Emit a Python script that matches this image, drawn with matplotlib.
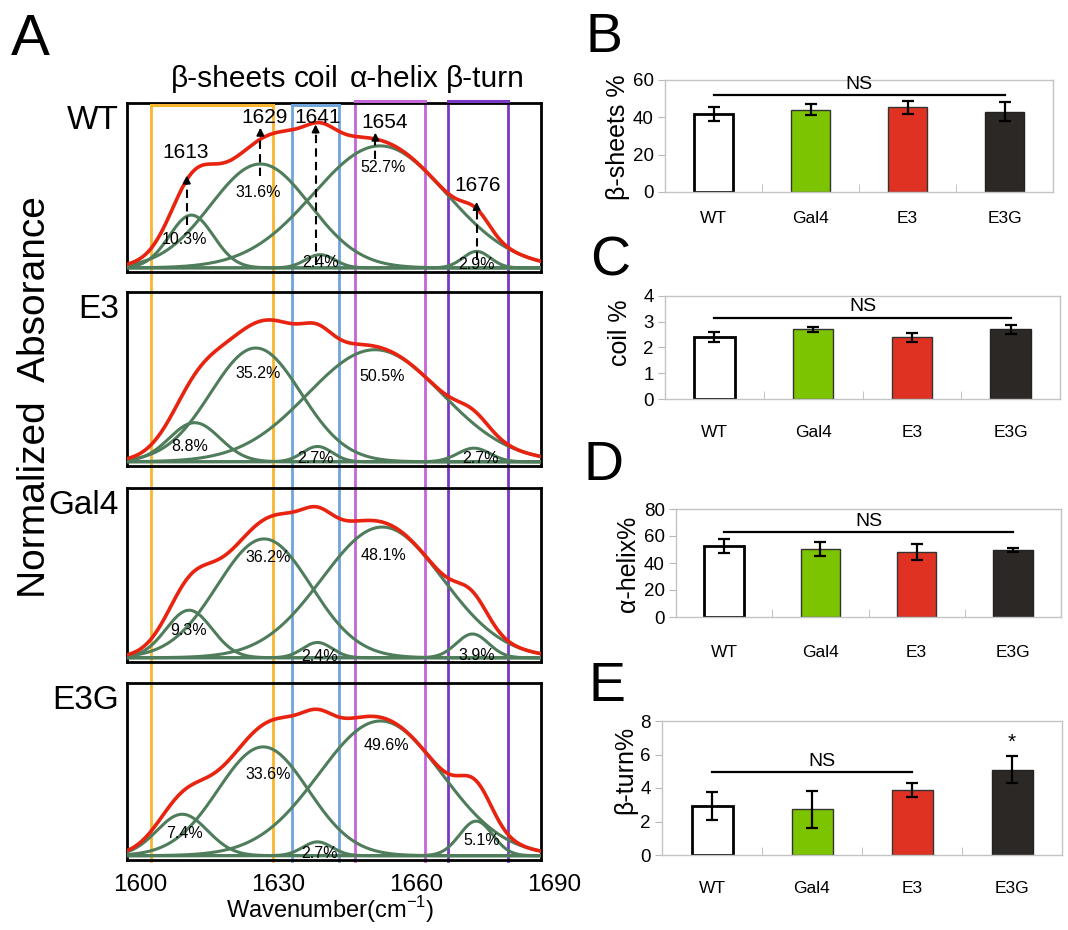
import numpy as np
import matplotlib
matplotlib.use('Agg')
import matplotlib.pyplot as plt
from matplotlib.lines import Line2D
from matplotlib import transforms

plt.rcParams['font.family'] = ['Liberation Sans', 'DejaVu Sans']

W, H = 1068, 930
fig = plt.figure(figsize=(W / 100, H / 100), dpi=100)


def fx(px):
    return px / W


def fy(py):
    return 1 - py / H


# ---------------- Panel A data (Gaussian fit components) ----------------
samples = ['WT', 'E3', 'Gal4', 'E3G']
# components: beta-sheet 1, beta-sheet 2, coil, alpha-helix, beta-turn
wt_centers = [1614.0, 1629.0, 1642.0, 1655.0, 1676.0]
wt_heights = [0.32, 0.63, 0.08, 0.74, 0.10]
wt_widths = [4.8, 10.8, 3.2, 14.5, 3.0]
wt_pct = ['10.3%', '31.6%', '2.4%', '52.7%', '2.9%']

e3_centers = [1614.7, 1628.0, 1641.4, 1653.9, 1675.4]
e3_heights = [0.23, 0.67, 0.09, 0.66, 0.08]
e3_widths = [5.5, 9.8, 3.2, 14.6, 3.5]
e3_pct = ['8.8%', '35.2%', '2.7%', '50.5%', '2.7%']

gal4_centers = [1613.5, 1629.8, 1641.4, 1655.5, 1675.1]
gal4_heights = [0.28, 0.70, 0.09, 0.77, 0.14]
gal4_widths = [5.0, 10.2, 3.2, 13.1, 3.5]
gal4_pct = ['9.3%', '36.2%', '2.4%', '48.1%', '3.9%']

e3g_centers = [1612.0, 1629.6, 1641.4, 1655.1, 1675.9]
e3g_heights = [0.24, 0.63, 0.08, 0.78, 0.20]
e3g_widths = [5.5, 9.8, 3.2, 13.4, 3.6]
e3g_pct = ['7.4%', '33.6%', '2.7%', '49.6%', '5.1%']

# percent label positions (wavenumber, height)
wt_pct_pos = [(1612.6, 0.17), (1628.5, 0.46), (1642.0, 0.03), (1655.6, 0.61), (1676.0, 0.02)]
e3_pct_pos = [(1613.7, 0.09), (1628.6, 0.52), (1641.0, 0.02), (1655.5, 0.50), (1676.9, 0.02)]
gal4_pct_pos = [(1613.4, 0.16), (1630.7, 0.59), (1641.8, 0.01), (1655.7, 0.60), (1676.0, 0.015)]
e3g_pct_pos = [(1612.5, 0.13), (1630.6, 0.47), (1641.8, 0.01), (1656.3, 0.64), (1677.0, 0.09)]

# WT peak annotations
wt_peak_labels = ['1613', '1629', '1641', '1654', '1676']
wt_peak_x = [1613, 1629, 1641, 1654, 1676]
wt_arrow_y = [(0.26, 0.56), (0.56, 0.85), (0.02, 0.87), (0.66, 0.82), (0.05, 0.40)]
wt_label_pos = [(1612.7, 0.70), (1630.0, 0.91), (1641.4, 0.91), (1656.0, 0.88), (1676.3, 0.50)]

# region boundaries (cm-1)
region_names = ['β-sheets', 'coil', 'α-helix', 'β-turn']
region_bounds = [(1605.3, 1631.7), (1635.9, 1646.1), (1649.5, 1664.8), (1669.8, 1682.8)]
region_label_x = [1622.0, 1641.1, 1658.0, 1677.8]
region_colors = ['#f7b530', '#72a3da', '#c465d8', '#7b38c6']

x_ticks = [1600, 1630, 1660, 1690]

spec_data = {
    'WT': (wt_centers, wt_heights, wt_widths, wt_pct, wt_pct_pos),
    'E3': (e3_centers, e3_heights, e3_widths, e3_pct, e3_pct_pos),
    'Gal4': (gal4_centers, gal4_heights, gal4_widths, gal4_pct, gal4_pct_pos),
    'E3G': (e3g_centers, e3g_heights, e3g_widths, e3g_pct, e3g_pct_pos),
}

# axes boxes in pixels: (top, bottom)
spec_boxes = {'WT': (103, 272), 'E3': (292, 466), 'Gal4': (488, 662), 'E3G': (683, 860)}
SX0, SX1 = 127, 541

green = '#4f7d5c'
red = '#e8230f'

wn = np.linspace(1600, 1690, 600)
spec_axes = {}
for s in samples:
    top, bot = spec_boxes[s]
    ax = fig.add_axes([fx(SX0), fy(bot), (SX1 - SX0) / W, (bot - top) / H])
    ax.set_facecolor('none')
    ax.set_xlim(1600, 1690)
    ax.set_ylim(-0.025, 1.0)
    ax.set_xticks([])
    ax.set_yticks([])
    for sp in ax.spines.values():
        sp.set_linewidth(2.0)
        sp.set_color('black')
    centers, heights, widths, pcts, ppos = spec_data[s]
    total = np.zeros_like(wn)
    for c, h, w in zip(centers, heights, widths):
        comp = h * np.exp(-0.5 * ((wn - c) / w) ** 2)
        total += comp
        ax.plot(wn, comp, color=green, lw=2.2, zorder=3)
    ax.plot(wn, total, color=red, lw=2.6, zorder=4)
    for txt, (px, py) in zip(pcts, ppos):
        ax.text(px, py, txt, ha='center', va='center', fontsize=11.5, zorder=5)
    ax.text(-0.02, 0.99, s, transform=ax.transAxes, ha='right', va='top', fontsize=24)
    spec_axes[s] = ax

# WT arrows & peak labels
axw = spec_axes['WT']
for lab, x, (y0, y1), (lx, ly) in zip(wt_peak_labels, wt_peak_x, wt_arrow_y, wt_label_pos):
    axw.plot([x, x], [y0, y1 - 0.03], ls=(0, (4, 2.5)), color='black', lw=1.5, zorder=6)
    axw.annotate('', xy=(x, y1), xytext=(x, y1 - 0.05),
                 arrowprops=dict(arrowstyle='-|>', color='black', lw=1.3,
                                 mutation_scale=11, shrinkA=0, shrinkB=0), zorder=6)
    axw.text(lx, ly, lab, ha='center', va='center', fontsize=15, zorder=7)

# region lines spanning all spectra panels
axb = spec_axes['E3G']
blend = transforms.blended_transform_factory(axb.transData, fig.transFigure)
ytop = fy(103)
ybot = fy(861)
for (a, b), col, i in zip(region_bounds, region_colors, range(4)):
    for xv in (a, b):
        fig.add_artist(Line2D([xv, xv], [ybot, ytop], transform=blend, color=col,
                              lw=2.0, zorder=-1))
    dy = -2 / H if i < 2 else 2 / H
    fig.add_artist(Line2D([a, b], [ytop + dy, ytop + dy], transform=blend, color=col,
                          lw=2.2, zorder=5))
for name, xv in zip(region_names, region_label_x):
    fig.text(xv, fy(79), name, transform=blend, ha='center', va='center', fontsize=21.5)

# bottom tick labels (slightly shifted as in the original composite)
off = transforms.ScaledTranslation(0.13, 0, fig.dpi_scale_trans)
tb = transforms.blended_transform_factory(axb.transData, fig.transFigure) + off
for v in x_ticks:
    fig.text(v, fy(885), str(v), transform=tb, ha='center', va='center', fontsize=17.5)
fig.text(fx(330), fy(910), 'Wavenumber(cm$^{\\mathregular{-1}}$)', ha='center', va='center',
         fontsize=17)
fig.text(fx(35), fy(397), 'Normalized  Absorance', rotation=90, ha='center', va='center',
         fontsize=28)
fig.text(fx(30), fy(40), 'A', ha='center', va='center', fontsize=42)

# ---------------- Panels B-E data ----------------
groups = ['WT', 'Gal4', 'E3', 'E3G']
bar_colors = ['white', '#7cc400', '#e03222', '#2c2826']
bar_edges = ['black', '#333333', '#333333', '#222222']

sheet_mean = [41.8, 44.1, 45.3, 43.1]
sheet_err = [3.7, 3.1, 3.4, 4.9]
coil_mean = [2.42, 2.71, 2.39, 2.71]
coil_err = [0.19, 0.10, 0.16, 0.17]
helix_mean = [52.7, 50.4, 48.2, 49.7]
helix_err = [5.0, 5.5, 5.8, 1.2]
turn_mean = [2.92, 2.72, 3.87, 5.10]
turn_err = [0.85, 1.12, 0.43, 0.79]

panels = [
    # letter, ylabel, mean, err, box(l, r, t, b), ymax, yticks, ns(x0,x1,y,tx,ty), letter pos, ylabel pos, label pad
    ('B', 'β-sheets %', sheet_mean, sheet_err, (665, 1053, 80, 192), 60, [0, 20, 40, 60],
     (0, 3, 52, 1.5, 53.2), (604, 38), (618, 137), 14),
    ('C', 'coil %', coil_mean, coil_err, (665, 1060, 296, 399), 4, [0, 1, 2, 3, 4],
     (0, 3, 3.16, 1.5, 3.27), (610, 262), (620, 333), 19),
    ('D', 'α-helix%', helix_mean, helix_err, (676, 1061, 509, 617), 80, [0, 20, 40, 60, 80],
     (0, 3, 62.6, 1.5, 64.5), (604, 466), (628, 564), 20),
    ('E', 'β-turn%', turn_mean, turn_err, (662, 1062, 721, 855), 8, [0, 2, 4, 6, 8],
     (0, 2, 4.96, 1.1, 5.1), (607, 687), (625, 770), 19),
]

xpos = np.arange(len(groups))
for letter, ylab, mean, err, (l, r, t, b), ymax, yticks, ns, lpos, ylpos, pad in panels:
    ax = fig.add_axes([fx(l), fy(b), (r - l) / W, (b - t) / H])
    ax.bar(xpos, mean, width=0.41, color=bar_colors, edgecolor=bar_edges,
           linewidth=[2.0, 1.0, 1.0, 1.0], zorder=2)
    ax.errorbar(xpos, mean, yerr=err, fmt='none', ecolor='black', elinewidth=1.6,
                capsize=4, capthick=1.6, zorder=3)
    ax.set_xlim(-0.5, 3.5)
    ax.set_ylim(0, ymax)
    ax.set_yticks(yticks)
    ax.set_xticks(xpos)
    ax.set_xticklabels(groups, fontsize=12.5)
    ax.set_xticks([0.5, 1.5, 2.5], minor=True)
    ax.tick_params(axis='x', which='major', length=0, pad=pad)
    ax.tick_params(axis='x', which='minor', direction='in', length=6, color='#b8b8b8')
    ax.tick_params(axis='y', length=5, color='#b8b8b8', labelsize=13.5, pad=3)
    for sp in ax.spines.values():
        sp.set_color('#c4c4c4')
        sp.set_linewidth(1.0)
    x0, x1, yl, tx, ty = ns
    ax.plot([x0, x1], [yl, yl], color='black', lw=1.6, zorder=4)
    ax.text(tx, ty, 'NS', ha='center', va='bottom', fontsize=14)
    if letter == 'E':
        ax.text(3, mean[3] + err[3] + 0.25, '*', ha='center', va='bottom', fontsize=15)
    fig.text(fx(lpos[0]), fy(lpos[1]), letter, ha='center', va='center', fontsize=40)
    fig.text(fx(ylpos[0]), fy(ylpos[1]), ylab, rotation=90, ha='center', va='center',
             fontsize=18)

fig.savefig('out.png', dpi=100)
